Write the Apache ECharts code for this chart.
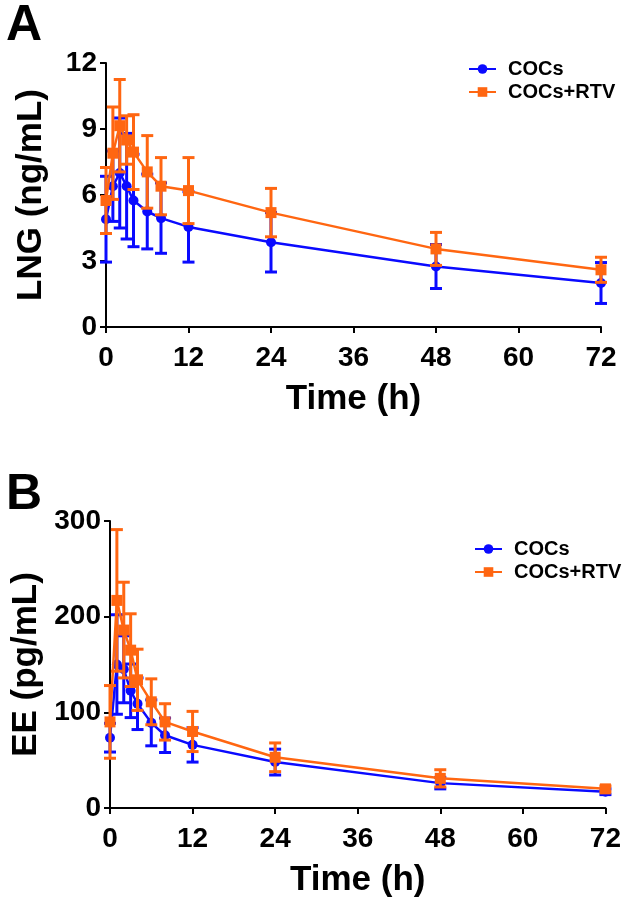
<!DOCTYPE html>
<html>
<head>
<meta charset="utf-8">
<script src="https://cdn.jsdelivr.net/npm/echarts@6/dist/echarts.min.js"></script>
<style>
html,body{margin:0;padding:0;background:#fff;}
#c{width:624px;height:900px;}
</style>
</head>
<body>
<div id="c"></div>
<script>
// ---- data ----
const timesH = [0, 1, 2, 3, 4, 6, 8, 12, 24, 48, 72];
const xTicks = [0, 12, 24, 36, 48, 60, 72];
const seriesNames = ['COCs', 'COCs+RTV'];

// Panel A: LNG (ng/mL), mean and SD
const lngCOCs      = [4.9, 6.4, 7.0, 6.4, 5.75, 5.25, 4.95, 4.55, 3.85, 2.75, 2.0];
const lngCOCsSD    = [1.95, 1.6, 2.5, 2.4, 2.1, 1.7, 1.6, 1.6, 1.35, 1.0, 0.93];
const lngRTV       = [5.75, 7.9, 9.15, 8.5, 7.95, 7.05, 6.4, 6.2, 5.2, 3.55, 2.6];
const lngRTVSD     = [1.5, 2.1, 2.1, 1.1, 1.7, 1.65, 1.3, 1.5, 1.1, 0.75, 0.57];
const lngTicks     = [0, 3, 6, 9, 12];

// Panel B: EE (pg/mL), mean and SD
const eeCOCs       = [73.5, 150, 145, 122.5, 109, 89, 76, 66, 48, 26, 17];
const eeCOCsSD     = [15, 52, 35, 28, 27, 24, 18, 18, 13.5, 6, 3];
const eeRTV        = [90, 217, 186, 165, 134, 111, 90, 80, 53, 31, 20];
const eeRTVSD      = [38, 74, 50, 38, 32, 24, 19, 21, 15, 9, 3];
const eeTicks      = [0, 100, 200, 300];

const BLUE = '#0a0aff';
const ORANGE = '#ff6611';
const FONT = 'Liberation Sans, Arial, sans-serif';

function pts(mean) { return timesH.map((t, i) => [t, mean[i]]); }
function errs(mean, sd) { return timesH.map((t, i) => [t, mean[i] - sd[i], mean[i] + sd[i]]); }

function errRender(color) {
  return function (params, api) {
    const x = api.value(0), lo = api.value(1), hi = api.value(2);
    const a = api.coord([x, lo]), b = api.coord([x, hi]);
    const hw = 6;
    const st = { stroke: color, lineWidth: 3 };
    return {
      type: 'group',
      children: [
        { type: 'line', shape: { x1: a[0], y1: a[1], x2: b[0], y2: b[1] }, style: st },
        { type: 'line', shape: { x1: a[0] - hw, y1: a[1], x2: a[0] + hw, y2: a[1] }, style: st },
        { type: 'line', shape: { x1: b[0] - hw, y1: b[1], x2: b[0] + hw, y2: b[1] }, style: st }
      ]
    };
  };
}

function xAx(grid) {
  return {
    type: 'value', gridIndex: grid, min: 0, max: 72, interval: 12,
    name: 'Time (h)', nameLocation: 'middle', nameGap: 55,
    nameTextStyle: { fontFamily: FONT, fontWeight: 'bold', fontSize: 35, color: '#000' },
    axisLine: { show: true, onZero: false, lineStyle: { color: '#000', width: 2 } },
    axisTick: { show: true, length: 6, lineStyle: { color: '#000', width: 2 } },
    axisLabel: { fontFamily: FONT, fontWeight: 'bold', fontSize: 28, color: '#000', margin: 17 },
    splitLine: { show: false }
  };
}
function yAx(grid, max, interval, name) {
  return {
    type: 'value', gridIndex: grid, min: 0, max: max, interval: interval,
    name: name, nameLocation: 'middle', nameGap: 57, nameRotate: 90,
    nameTextStyle: { fontFamily: FONT, fontWeight: 'bold', fontSize: 35, color: '#000' },
    axisLine: { show: true, lineStyle: { color: '#000', width: 2 } },
    axisTick: { show: true, length: 6, lineStyle: { color: '#000', width: 2 } },
    axisLabel: { fontFamily: FONT, fontWeight: 'bold', fontSize: 28, color: '#000', margin: 9 },
    splitLine: { show: false }
  };
}

function errSeries(name, grid, data, color) {
  return {
    type: 'custom', name: name, xAxisIndex: grid, yAxisIndex: grid,
    renderItem: errRender(color), data: data, itemStyle: { color: color },
    encode: { x: 0, y: [1, 2] }, z: 2, silent: true
  };
}
function lineSeries(name, grid, data, color, symbol, z) {
  return {
    type: 'line', name: name, xAxisIndex: grid, yAxisIndex: grid, data: data,
    symbol: symbol, symbolSize: symbol === 'rect' ? 11 : 10,
    itemStyle: { color: color }, lineStyle: { color: color, width: 2.5 },
    z: z, animation: false
  };
}

function legend(left, top) {
  return {
    data: seriesNames, orient: 'vertical', left: left, top: top,
    itemWidth: 27, itemHeight: 12, itemGap: 3,
    textStyle: { fontFamily: FONT, fontWeight: 'bold', fontSize: 20, color: '#000', padding: [0, 0, 0, 7] }
  };
}

const chart = echarts.init(document.getElementById('c'), null, { renderer: 'canvas' });
chart.setOption({
  animation: false,
  backgroundColor: '#fff',
  graphic: [
    { type: 'text', left: 6, top: 1, style: { text: 'A', font: 'bold 50px ' + FONT, fill: '#000' } },
    { type: 'text', left: 6, top: 470, style: { text: 'B', font: 'bold 50px ' + FONT, fill: '#000' } }
  ],
  legend: [legend(463, 54), legend(469, 534)],
  grid: [
    { left: 106, right: 23, top: 63, height: 264 },
    { left: 110, right: 18, top: 521, height: 287 }
  ],
  xAxis: [xAx(0), xAx(1)],
  yAxis: [yAx(0, 12, 3, 'LNG (ng/mL)'), yAx(1, 300, 100, 'EE (pg/mL)')],
  series: [
    lineSeries(seriesNames[0], 0, pts(lngCOCs), BLUE, 'circle', 3),
    lineSeries(seriesNames[1], 0, pts(lngRTV), ORANGE, 'rect', 5),
    errSeries(seriesNames[0], 0, errs(lngCOCs, lngCOCsSD), BLUE),
    Object.assign(errSeries(seriesNames[1], 0, errs(lngRTV, lngRTVSD), ORANGE), { z: 4 }),
    lineSeries(seriesNames[0], 1, pts(eeCOCs), BLUE, 'circle', 3),
    lineSeries(seriesNames[1], 1, pts(eeRTV), ORANGE, 'rect', 5),
    errSeries(seriesNames[0], 1, errs(eeCOCs, eeCOCsSD), BLUE),
    Object.assign(errSeries(seriesNames[1], 1, errs(eeRTV, eeRTVSD), ORANGE), { z: 4 })
  ]
});
</script>
</body>
</html>
